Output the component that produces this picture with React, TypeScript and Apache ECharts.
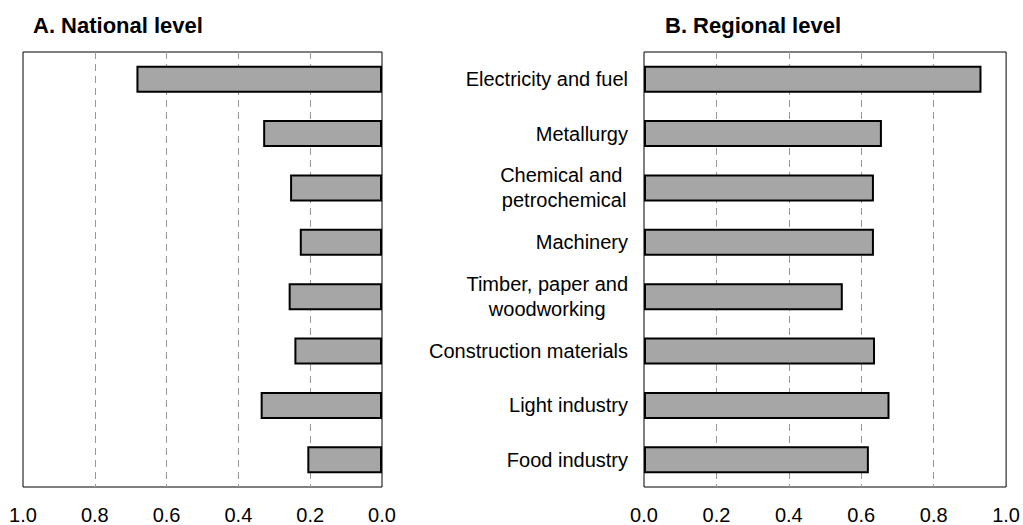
import React, { useEffect, useRef } from "react";
import * as echarts from "echarts";

const categories = [
  "Electricity and fuel",
  "Metallurgy",
  "Chemical and \npetrochemical",
  "Machinery",
  "Timber, paper and\nwoodworking",
  "Construction materials",
  "Light industry",
  "Food industry",
];
const nationalValues = [0.684, 0.331, 0.256, 0.229, 0.26, 0.244, 0.338, 0.208];
const regionalValues = [0.932, 0.657, 0.635, 0.635, 0.549, 0.638, 0.678, 0.621];
const tickValues = [0, 0.2, 0.4, 0.6, 0.8, 1.0];
const titles = ["A. National level", "B. Regional level"];

const FONT = "'Liberation Sans', Arial, Helvetica, sans-serif";

export default function App() {
  const ref = useRef<HTMLDivElement>(null);
  useEffect(() => {
    if (!ref.current) return;
    const chart = echarts.init(ref.current, undefined, { renderer: "svg" });
    const makeX = (gridIndex: number, inverse: boolean) => ({
      type: "value",
      gridIndex,
      min: tickValues[0],
      max: tickValues[tickValues.length - 1],
      interval: 0.2,
      inverse,
      axisLine: { show: false },
      axisTick: { show: false },
      axisLabel: {
        margin: 18,
        fontSize: 20,
        fontFamily: FONT,
        color: "#000",
        formatter: (v: number) => v.toFixed(1),
      },
      splitLine: {
        show: true,
        showMinLine: false,
        showMaxLine: false,
        lineStyle: { color: "#999", width: 1, type: [7, 5] },
      },
    });
    const barSeries = (idx: number, data: number[]) => ({
      type: "bar",
      xAxisIndex: idx,
      yAxisIndex: idx,
      data,
      barWidth: 27,
      itemStyle: { color: "#a6a6a6", borderColor: "#000", borderWidth: 2 },
      silent: true,
    });
    const titleStyle = { fontFamily: FONT, fontSize: 22, fontWeight: "bold", color: "#000" };
    chart.setOption({
      animation: false,
      backgroundColor: "#fff",
      title: [
        { text: titles[0], left: 33, top: 14, padding: 0, textStyle: titleStyle },
        { text: titles[1], left: 665, top: 14, padding: 0, textStyle: titleStyle },
      ],
      grid: [
        { left: 23, right: 641, top: 52, bottom: 37, show: true, borderColor: "#000", borderWidth: 1, backgroundColor: "transparent" },
        { left: 644, right: 16, top: 52, bottom: 37, show: true, borderColor: "#000", borderWidth: 1, backgroundColor: "transparent" },
      ],
      xAxis: [makeX(0, true), makeX(1, false)],
      yAxis: [
        {
          type: "category",
          gridIndex: 0,
          data: categories,
          inverse: true,
          axisLine: { show: false },
          axisTick: { show: false },
          axisLabel: { show: false },
          splitLine: { show: false },
        },
        {
          type: "category",
          gridIndex: 1,
          data: categories,
          inverse: true,
          axisLine: { show: false },
          axisTick: { show: false },
          splitLine: { show: false },
          axisLabel: {
            margin: 16,
            align: "right",
            fontSize: 20,
            fontFamily: FONT,
            color: "#000",
            lineHeight: 25,
            formatter: (v: string) =>
              v.indexOf("\n") >= 0
                ? v
                    .split("\n")
                    .map((l) => `{c|${l}}`)
                    .join("\n")
                : v,
            rich: {
              c: { align: "center", fontSize: 20, fontFamily: FONT, color: "#000", lineHeight: 25 },
            },
          },
        },
      ],
      series: [barSeries(0, nationalValues), barSeries(1, regionalValues)],
    });
    return () => chart.dispose();
  }, []);
  return (
    <div
      ref={ref}
      style={{ position: "fixed", left: 0, top: 0, width: 1023, height: 525, background: "#fff" }}
    />
  );
}
